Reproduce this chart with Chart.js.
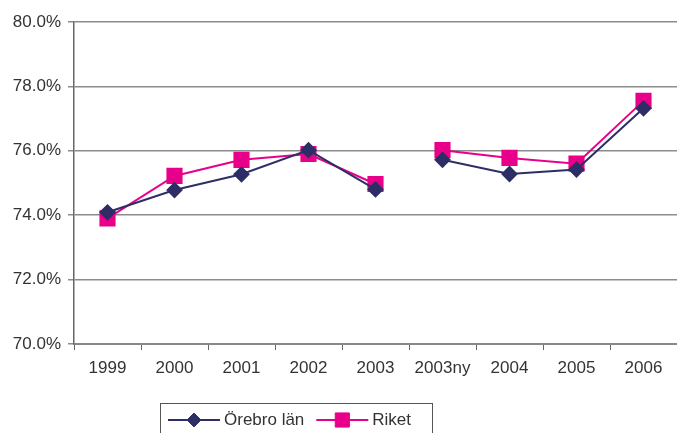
<!DOCTYPE html>
<html>
<head>
<meta charset="utf-8">
<script src="https://cdn.jsdelivr.net/npm/chart.js@4/dist/chart.umd.min.js"></script>
<style>
  html, body { margin: 0; padding: 0; background: #fff; }
  #wrap { width: 677px; height: 433px; }
</style>
</head>
<body>
<div id="wrap"><canvas id="myChart" width="677" height="433"></canvas></div>
<script>
var years = ['1999', '2000', '2001', '2002', '2003', '2003ny', '2004', '2005', '2006'];
var orebro = [74.09, 74.78, 75.27, 76.02, 74.8, 75.72, 75.28, 75.42, 77.32];
var riket = [73.9, 75.22, 75.72, 75.9, 74.97, 76.02, 75.78, 75.6, 77.55];
var yTicks = [70, 72, 74, 76, 78, 80];

var txtColor = '#333333';
var fontFam = '"Liberation Sans", Arial, sans-serif';

// the series break between 2003 and 2003ny
function gap(ctx) {
    return ctx.p0DataIndex === 4 ? 'transparent' : undefined;
}

// legend drawn as line-marker-line inside a framed box
var boxLegend = {
    id: 'boxLegend',
    afterDraw: function (chart) {
        var c = chart.ctx;
        var left = 160, top = 403, cy = 420;
        c.save();
        c.font = '17px ' + fontFam;
        c.textBaseline = 'middle';
        var x = left + 8;
        chart.data.datasets.forEach(function (ds, i) {
            c.strokeStyle = ds.borderColor;
            c.lineWidth = 2;
            c.beginPath();
            c.moveTo(x, cy);
            c.lineTo(x + 52, cy);
            c.stroke();
            c.fillStyle = ds.pointBackgroundColor;
            c.strokeStyle = ds.pointBorderColor;
            c.lineWidth = 1;
            Chart.helpers.drawPoint(c, {
                pointStyle: ds.pointStyle,
                radius: ds.pointRadius,
                borderWidth: 1
            }, x + 26, cy);
            c.fillStyle = txtColor;
            c.textAlign = 'left';
            c.fillText(ds.label, x + 56, cy);
            x += 56 + c.measureText(ds.label).width + 12;
        });
        c.strokeStyle = '#555555';
        c.lineWidth = 1;
        c.strokeRect(left + 0.5, top + 0.5, 272, 40);
        c.restore();
    }
};

var graphTarget = document.getElementById('myChart');
var lineGraph = new Chart(graphTarget, {
    type: 'line',
    data: {
        labels: years,
        datasets: [
            {
                label: 'Örebro län',
                data: orebro,
                borderColor: '#2E2E66',
                backgroundColor: '#2E2E66',
                pointBackgroundColor: '#2E2E66',
                pointBorderColor: '#2E2E66',
                pointStyle: 'rectRot',
                pointRadius: 7,
                pointHoverRadius: 7,
                borderWidth: 2,
                tension: 0,
                segment: { borderColor: gap }
            },
            {
                label: 'Riket',
                data: riket,
                borderColor: '#E8008A',
                backgroundColor: '#E8008A',
                pointBackgroundColor: '#E8008A',
                pointBorderColor: '#E8008A',
                pointStyle: 'rect',
                pointRadius: 10,
                pointHoverRadius: 10,
                borderWidth: 2,
                tension: 0,
                segment: { borderColor: gap }
            }
        ]
    },
    options: {
        responsive: false,
        animation: false,
        layout: { autoPadding: false, padding: { top: 22, right: 0, left: 0, bottom: 0 } },
        plugins: {
            legend: { display: false },
            tooltip: { enabled: false }
        },
        scales: {
            x: {
                offset: true,
                grid: {
                    offset: true,
                    drawOnChartArea: false,
                    drawTicks: true,
                    tickLength: 6,
                    color: '#666666'
                },
                border: { color: '#888888', width: 2 },
                ticks: {
                    color: txtColor,
                    font: { family: fontFam, size: 17 },
                    padding: 8,
                    maxRotation: 0,
                    autoSkip: false
                },
                afterFit: function (scale) {
                    scale.height = 89;
                    scale.paddingRight = 0;
                    scale.paddingLeft = 0;
                }
            },
            y: {
                min: 70,
                max: 80,
                afterBuildTicks: function (scale) {
                    scale.ticks = yTicks.map(function (v) { return { value: v }; });
                },
                grid: {
                    color: '#8C8C8C',
                    lineWidth: 1.5,
                    drawTicks: true,
                    tickLength: 6
                },
                border: { color: '#666666', width: 1.5 },
                ticks: {
                    color: txtColor,
                    font: { family: fontFam, size: 17 },
                    padding: 7,
                    callback: function (v) { return v.toFixed(1) + '%'; }
                },
                afterFit: function (scale) { scale.width = 74; }
            }
        }
    },
    plugins: [boxLegend]
});
</script>
</body>
</html>
